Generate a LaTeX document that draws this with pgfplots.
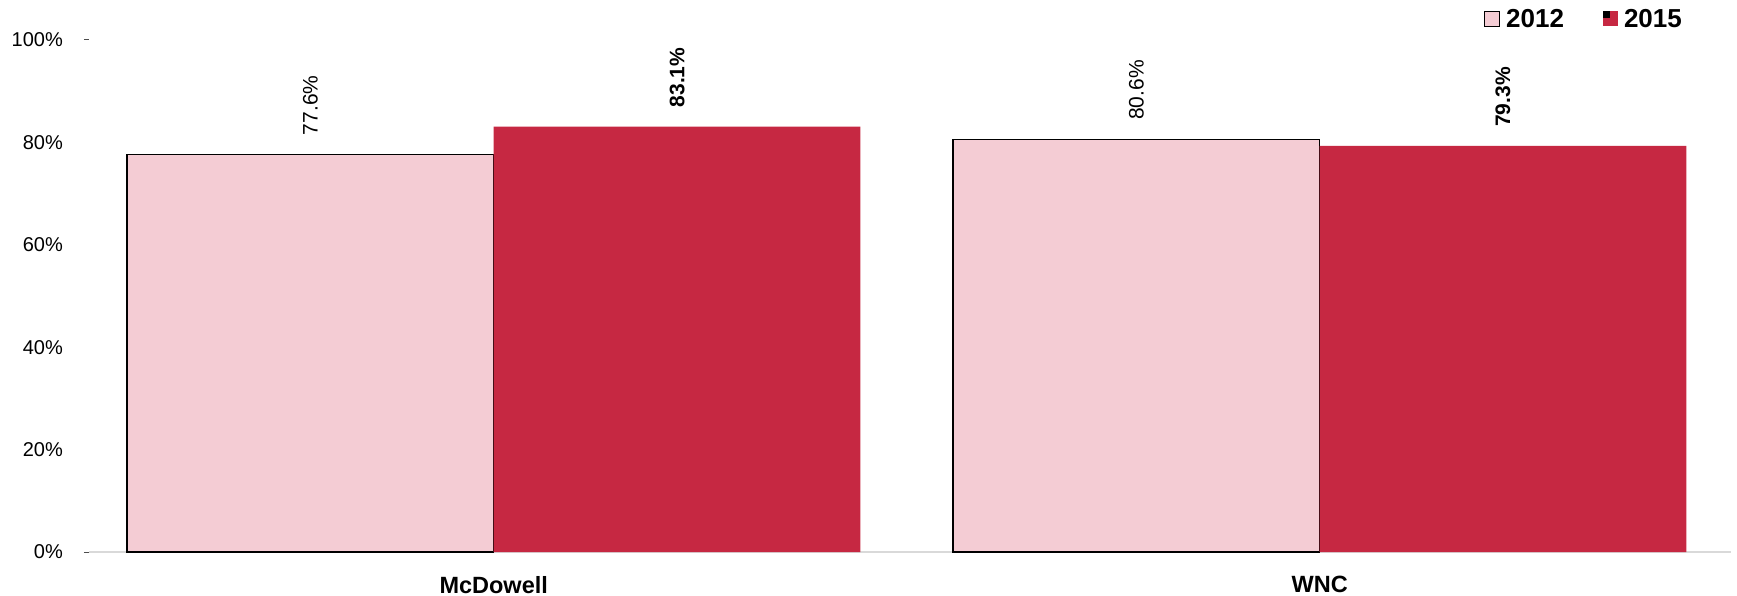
\documentclass[border=0pt]{standalone}
\usepackage{fontspec}
\setmainfont{Liberation Sans}
\usepackage{pgfplots}
\pgfplotsset{compat=1.18}
\definecolor{pinkbar}{RGB}{244,204,212}
\definecolor{redbar}{RGB}{198,40,66}
\begin{document}
\begin{tikzpicture}
\path[use as bounding box] (-89pt,-43pt) rectangle (1648pt,552pt);
\begin{axis}[
  at={(0pt,0pt)}, anchor=south west,
  scale only axis, width=1642pt, height=512pt,
  xmin=-0.490, xmax=1.498, ymin=0, ymax=100,
  ybar=0pt, bar width=0.444,
  /pgf/number format/assume math mode=true,
  axis lines*=left,
  y axis line style={draw=none},
  x axis line style={draw=black!15, line width=1.5pt},
  xtick={0,1}, xticklabels={McDowell,WNC},
  xtick style={draw=none},
  xticklabel style={font=\bfseries\fontsize{23.5}{27}\selectfont, inner sep=0pt, anchor=north, yshift=-20pt},
  ytick={0,20,...,100},
  yticklabel={\pgfmathprintnumber{\tick}\%},
  ytick style={draw=none},
  yticklabel style={font=\fontsize{20}{24}\selectfont, inner sep=0pt, anchor=east, xshift=-26pt},
  extra y ticks={0,100}, extra y tick labels={},
  extra y tick style={tick align=outside, major tick length=5pt, ytick style={draw=black!70, line width=1pt}},
  legend columns=2,
  legend style={at={(axis description cs:0.9702,1.0215)}, anchor=south east, draw=none, fill=none,
    inner sep=0pt, nodes={inner sep=0pt},
    font=\bfseries\fontsize{26}{30}\selectfont,
    /tikz/every even column/.append style={column sep=39pt}},
]
\addplot[fill=pinkbar, draw=black, line width=1.2pt,
  nodes near coords={\pgfmathprintnumber[fixed,fixed zerofill,precision=1]{\pgfplotspointmeta}\%},
  nodes near coords style={font=\fontsize{21}{25}\selectfont, black, yshift=19pt, rotate=90, anchor=west, inner sep=0pt},
  legend image code/.code={\draw[black, line width=1.2pt, fill=pinkbar] (0pt,-7.5pt) rectangle (15pt,7.5pt); \path (21pt,0pt);}
] coordinates {(0,77.6) (1,80.6)};
\addlegendentry{2012}
\addplot[fill=redbar, draw=none,
  nodes near coords={\pgfmathprintnumber[fixed,fixed zerofill,precision=1]{\pgfplotspointmeta}\%},
  nodes near coords style={font=\bfseries\fontsize{21}{25}\selectfont, black, yshift=19pt, rotate=90, anchor=west, inner sep=0pt},
  legend image code/.code={\fill[redbar] (0pt,-7.5pt) rectangle (15pt,7.5pt); \draw[black, line width=1pt] (0.5pt,7pt) rectangle (6.5pt,1pt); \path (21pt,0pt);}
] coordinates {(0,83.1) (1,79.3)};
\addlegendentry{2015}
\end{axis}
\end{tikzpicture}
\end{document}
